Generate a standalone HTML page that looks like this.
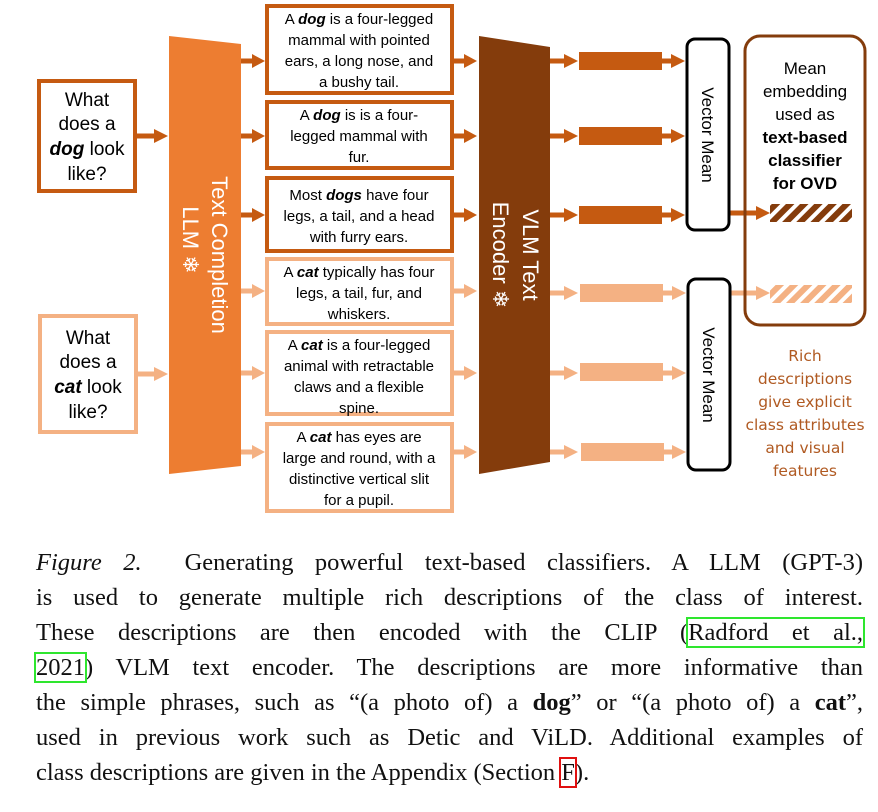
<!DOCTYPE html>
<html><head><meta charset="utf-8"><style>
body{margin:0;background:#fff;width:878px;height:812px;overflow:hidden;position:relative}
svg{position:absolute;left:0;top:0}
.cap{position:absolute;left:36px;top:545px;width:827px;font-family:"Liberation Serif",serif;font-size:24.5px;line-height:35px;color:#111}
.cap div{text-align:justify;text-align-last:justify;white-space:nowrap;height:35px}
.cap div.last{text-align-last:left}
.g{outline:2px solid #2ee62e}
.r{outline:2px solid #e01010}
</style></head><body>
<svg width="878" height="530" viewBox="0 0 878 530" font-family="Liberation Sans, sans-serif">
<defs>
<pattern id="hd" width="10" height="10" patternUnits="userSpaceOnUse" patternTransform="rotate(45)"><rect width="10" height="10" fill="#fff"/><rect width="6" height="10" fill="#843c0c"/></pattern>
<pattern id="hl" width="10" height="10" patternUnits="userSpaceOnUse" patternTransform="rotate(45)"><rect width="10" height="10" fill="#fff"/><rect width="6" height="10" fill="#f4b183"/></pattern>
</defs>
<rect x="39" y="81" width="96" height="110" fill="#fff" stroke="#c55a11" stroke-width="4"/>
<rect x="40" y="316" width="96" height="116" fill="#fff" stroke="#f4b183" stroke-width="4"/>
<g font-size="19" text-anchor="middle" fill="#000">
<text x="87" y="106">What</text><text x="87" y="130">does a</text><text x="87" y="155"><tspan font-weight="bold" font-style="italic">dog</tspan> look</text><text x="87" y="180">like?</text>
<text x="88" y="344">What</text><text x="88" y="368">does a</text><text x="88" y="393"><tspan font-weight="bold" font-style="italic">cat</tspan> look</text><text x="88" y="418">like?</text>
</g>
<g stroke-width="5">
<line x1="136" y1="136" x2="156" y2="136" stroke="#c55a11"/><polygon points="154,129 168,136 154,143" fill="#c55a11"/>
<line x1="137" y1="374" x2="156" y2="374" stroke="#f4b183"/><polygon points="154,367 168,374 154,381" fill="#f4b183"/>
</g>
<polygon points="169,36 241,44 241,466 169,474" fill="#ed7d31"/>
<g fill="#fff" font-size="22" text-anchor="middle">
<text transform="translate(212,255) rotate(90)">Text Completion</text>
<text transform="translate(183,240) rotate(90)">LLM ❄</text>
</g>
<g fill="#fff" stroke-width="4">
<rect x="267" y="6" width="185" height="87" stroke="#c55a11"/>
<rect x="267" y="102" width="185" height="66" stroke="#c55a11"/>
<rect x="267" y="178" width="185" height="73" stroke="#c55a11"/>
<rect x="267" y="259" width="185" height="65" stroke="#f4b183"/>
<rect x="267" y="332" width="185" height="82" stroke="#f4b183"/>
<rect x="267" y="424" width="185" height="87" stroke="#f4b183"/>
</g>
<g font-size="15" text-anchor="middle" fill="#000">
<text x="359" y="24">A <tspan font-weight="bold" font-style="italic">dog</tspan> is a four-legged</text>
<text x="359" y="45">mammal with pointed</text><text x="359" y="66">ears, a long nose, and</text><text x="359" y="87">a bushy tail.</text>
<text x="359" y="120">A <tspan font-weight="bold" font-style="italic">dog</tspan> is is a four-</text>
<text x="359" y="141">legged mammal with</text><text x="359" y="162">fur.</text>
<text x="359" y="200">Most <tspan font-weight="bold" font-style="italic">dogs</tspan> have four</text>
<text x="359" y="221">legs, a tail, and a head</text><text x="359" y="242">with furry ears.</text>
<text x="359" y="277">A <tspan font-weight="bold" font-style="italic">cat</tspan> typically has four</text>
<text x="359" y="298">legs, a tail, fur, and</text><text x="359" y="319">whiskers.</text>
<text x="359" y="350">A <tspan font-weight="bold" font-style="italic">cat</tspan> is a four-legged</text>
<text x="359" y="371">animal with retractable</text><text x="359" y="392">claws and a flexible</text><text x="359" y="413">spine.</text>
<text x="359" y="442">A <tspan font-weight="bold" font-style="italic">cat</tspan> has eyes are</text>
<text x="359" y="463">large and round, with a</text><text x="359" y="484">distinctive vertical slit</text><text x="359" y="505">for a pupil.</text>
</g>
<g stroke-width="5">
<g stroke="#c55a11" fill="#c55a11">
<line x1="241" y1="61" x2="254" y2="61"/><polygon points="252,54 265,61 252,68" stroke="none"/>
<line x1="241" y1="136" x2="254" y2="136"/><polygon points="252,129 265,136 252,143" stroke="none"/>
<line x1="241" y1="215" x2="254" y2="215"/><polygon points="252,208 265,215 252,222" stroke="none"/>
<line x1="453" y1="61" x2="466" y2="61"/><polygon points="464,54 477,61 464,68" stroke="none"/>
<line x1="453" y1="136" x2="466" y2="136"/><polygon points="464,129 477,136 464,143" stroke="none"/>
<line x1="453" y1="215" x2="466" y2="215"/><polygon points="464,208 477,215 464,222" stroke="none"/>
<line x1="550" y1="61" x2="566" y2="61"/><polygon points="564,54 578,61 564,68" stroke="none"/>
<line x1="550" y1="136" x2="566" y2="136"/><polygon points="564,129 578,136 564,143" stroke="none"/>
<line x1="550" y1="215" x2="566" y2="215"/><polygon points="564,208 578,215 564,222" stroke="none"/>
<rect x="579" y="52" width="83" height="18" stroke="none"/><rect x="579" y="127" width="83" height="18" stroke="none"/><rect x="579" y="206" width="83" height="18" stroke="none"/>
<line x1="662" y1="61" x2="674" y2="61"/><polygon points="671,54 685,61 671,68" stroke="none"/>
<line x1="662" y1="136" x2="674" y2="136"/><polygon points="671,129 685,136 671,143" stroke="none"/>
<line x1="662" y1="215" x2="674" y2="215"/><polygon points="671,208 685,215 671,222" stroke="none"/>
<line x1="729" y1="213" x2="758" y2="213"/><polygon points="756,206 770,213 756,220" stroke="none"/>
</g>
<g stroke="#f4b183" fill="#f4b183">
<line x1="241" y1="291" x2="254" y2="291"/><polygon points="252,284 265,291 252,298" stroke="none"/>
<line x1="241" y1="373" x2="254" y2="373"/><polygon points="252,366 265,373 252,380" stroke="none"/>
<line x1="241" y1="452" x2="254" y2="452"/><polygon points="252,445 265,452 252,459" stroke="none"/>
<line x1="453" y1="291" x2="466" y2="291"/><polygon points="464,284 477,291 464,298" stroke="none"/>
<line x1="453" y1="373" x2="466" y2="373"/><polygon points="464,366 477,373 464,380" stroke="none"/>
<line x1="453" y1="452" x2="466" y2="452"/><polygon points="464,445 477,452 464,459" stroke="none"/>
<line x1="550" y1="293" x2="566" y2="293"/><polygon points="564,286 578,293 564,300" stroke="none"/>
<line x1="550" y1="373" x2="566" y2="373"/><polygon points="564,366 578,373 564,380" stroke="none"/>
<line x1="550" y1="452" x2="566" y2="452"/><polygon points="564,445 578,452 564,459" stroke="none"/>
<rect x="580" y="284" width="83" height="18" stroke="none"/><rect x="580" y="363" width="83" height="18" stroke="none"/><rect x="581" y="443" width="83" height="18" stroke="none"/>
<line x1="663" y1="293" x2="675" y2="293"/><polygon points="672,286 686,293 672,300" stroke="none"/>
<line x1="663" y1="373" x2="675" y2="373"/><polygon points="672,366 686,373 672,380" stroke="none"/>
<line x1="664" y1="452" x2="675" y2="452"/><polygon points="672,445 686,452 672,459" stroke="none"/>
<line x1="730" y1="293" x2="758" y2="293"/><polygon points="756,286 770,293 756,300" stroke="none"/>
</g>
</g>
<polygon points="479,36 550,47 550,462 479,474" fill="#843c0c"/>
<g fill="#fff" font-size="22" text-anchor="middle">
<text transform="translate(523,255) rotate(90)">VLM Text</text>
<text transform="translate(493,255) rotate(90)">Encoder ❄</text>
</g>
<rect x="687" y="39" width="42" height="191" rx="8" fill="#fff" stroke="#000" stroke-width="3"/>
<rect x="688" y="279" width="42" height="191" rx="8" fill="#fff" stroke="#000" stroke-width="3"/>
<g font-size="17" text-anchor="middle" fill="#000">
<text transform="translate(702,135) rotate(90)">Vector Mean</text>
<text transform="translate(703,375) rotate(90)">Vector Mean</text>
</g>
<rect x="745" y="36" width="120" height="289" rx="15" fill="none" stroke="#843c0c" stroke-width="3"/>
<rect x="770" y="204" width="82" height="18" fill="url(#hd)"/>
<rect x="770" y="285" width="82" height="18" fill="url(#hl)"/>
<g font-size="17" text-anchor="middle" fill="#000">
<text x="805" y="74">Mean</text><text x="805" y="97">embedding</text><text x="805" y="120">used as</text>
<g font-weight="bold"><text x="805" y="143">text-based</text><text x="805" y="166">classifier</text><text x="805" y="189">for OVD</text></g>
</g>
<g font-size="15.5" text-anchor="middle" fill="#b05a22" font-family="DejaVu Sans, sans-serif">
<text x="805" y="361">Rich</text><text x="805" y="384">descriptions</text><text x="805" y="407">give explicit</text><text x="805" y="430">class attributes</text><text x="805" y="453">and visual</text><text x="805" y="476">features</text>
</g>
</svg>
<div class="cap">
<div><i>Figure 2.</i>&nbsp; Generating powerful text-based classifiers. A LLM (GPT-3)</div>
<div>is used to generate multiple rich descriptions of the class of interest.</div>
<div>These descriptions are then encoded with the CLIP (<span class="g">Radford et al.,</span></div>
<div><span class="g">2021</span>) VLM text encoder. The descriptions are more informative than</div>
<div>the simple phrases, such as “(a photo of) a <b>dog</b>” or “(a photo of) a <b>cat</b>”,</div>
<div>used in previous work such as Detic and ViLD. Additional examples of</div>
<div class="last">class descriptions are given in the Appendix (Section <span class="r">F</span>).</div>
</div>
</body></html>
